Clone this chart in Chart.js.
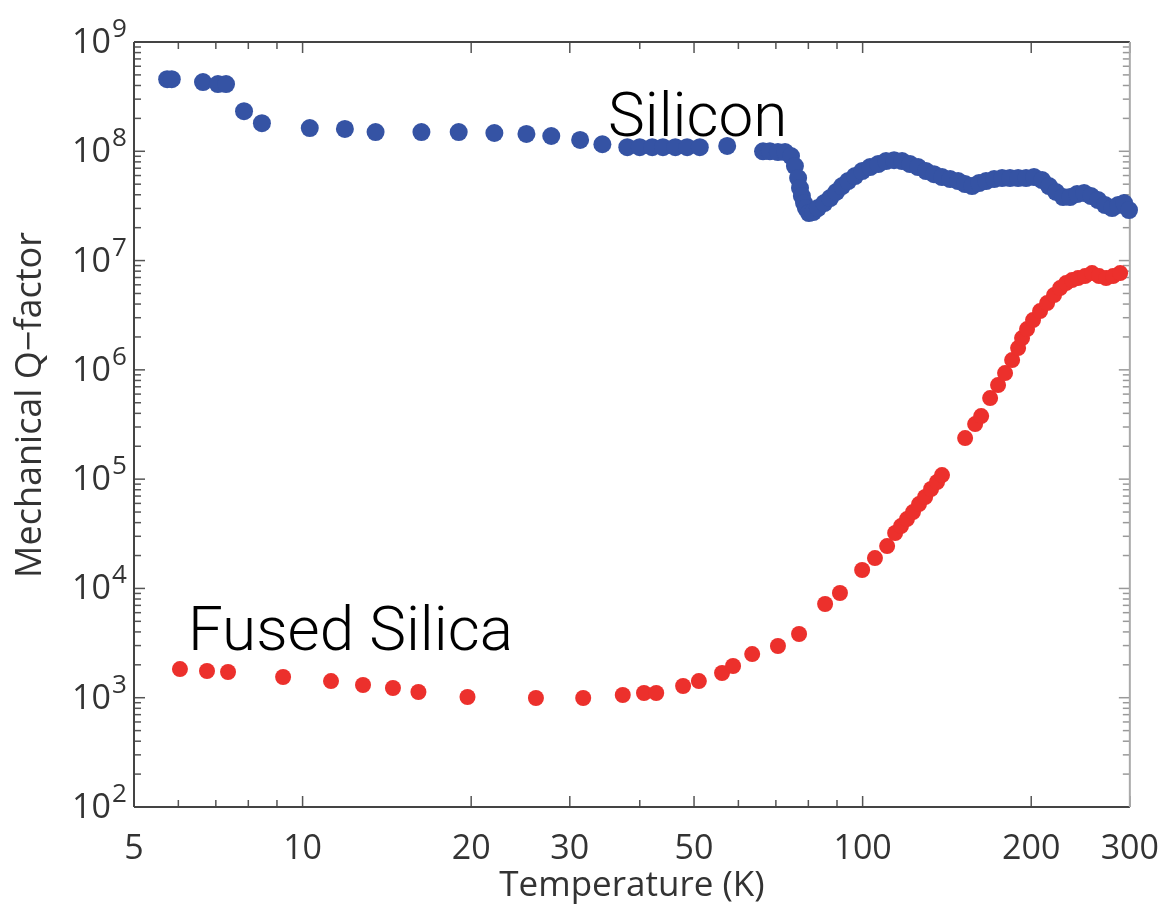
<!DOCTYPE html>
<html>
<head>
<meta charset="utf-8">
<script src="https://cdn.jsdelivr.net/npm/chart.js@4/dist/chart.umd.min.js"></script>
<style>
  html, body { margin: 0; padding: 0; background: #fff; }
</style>
</head>
<body>
<canvas id="qChart" width="1173" height="909"></canvas>
<script>
// Silicon: temperature (K) and mechanical Q
const siliconT = [5.73, 5.84, 6.64, 7.06, 7.30, 7.86, 8.46, 10.3, 11.9, 13.5, 16.3, 19.0, 22.0, 25.1, 27.8,
  31.3, 34.3, 38.0, 40.0, 42.1, 44.0, 46.3, 48.6, 51.2, 57.3,
  66.4, 68.3, 70.6, 72.7, 74.5, 75.7, 76.7, 77.3, 77.9, 78.6, 79.2, 80.2, 81.6, 83.2, 85.4,
  87.5, 89.7, 91.9, 94.2, 96.9, 99.8, 103.1, 106.6, 110.1, 113.8, 117.6, 121.5, 125.6, 129.8, 134.1,
  138.6, 143.3, 148.1, 152.4, 156.8, 161.4, 166.1, 171.7, 177.4, 183.3, 189.5, 195.8, 202.3, 209.1, 215.2,
  221.5, 228, 234.6, 241.5, 248.6, 255.8, 263.3, 271, 278.9, 285.9, 293, 299];
const siliconQ = [4.57e8, 4.57e8, 4.30e8, 4.12e8, 4.12e8, 2.33e8, 1.81e8, 1.63e8, 1.60e8, 1.50e8, 1.50e8, 1.50e8, 1.47e8, 1.44e8, 1.38e8,
  1.27e8, 1.16e8, 1.09e8, 1.09e8, 1.09e8, 1.09e8, 1.09e8, 1.09e8, 1.09e8, 1.12e8,
  1.00e8, 1.00e8, 9.84e7, 9.84e7, 9.04e7, 7.33e7, 5.69e7, 4.61e7, 3.89e7, 3.36e7, 3.02e7, 2.72e7, 2.78e7, 3.02e7, 3.36e7,
  3.73e7, 4.24e7, 4.81e7, 5.34e7, 5.93e7, 6.59e7, 7.17e7, 7.64e7, 8.13e7, 8.30e7, 8.13e7, 7.64e7, 7.17e7, 6.59e7, 6.18e7,
  5.81e7, 5.57e7, 5.34e7, 5.01e7, 4.81e7, 5.12e7, 5.34e7, 5.57e7, 5.69e7, 5.69e7, 5.69e7, 5.69e7, 5.81e7, 5.45e7, 4.81e7,
  4.24e7, 3.81e7, 3.81e7, 4.06e7, 4.15e7, 3.89e7, 3.58e7, 3.22e7, 3.02e7, 3.22e7, 3.36e7, 2.90e7];

// Fused silica: temperature (K) and mechanical Q
const silicaT = [6.04, 6.75, 7.36, 9.23, 11.24, 12.82, 14.5, 16.1, 19.7, 26.1, 31.7, 37.3, 40.7, 42.8, 47.8,
  51.0, 56.1, 58.7, 63.5, 70.6, 77.0, 85.7, 91.1, 99.8, 105.2, 110.6, 114.3, 117.1, 120.0, 123.0,
  126.1, 129.3, 132.5, 135.8, 138.6, 152.4, 158.8, 162.8, 168.9, 174.5, 179.6, 184.9, 189.5, 192.6, 196.6,
  201.5, 207.4, 213.5, 219.7, 225.2, 230.8, 236.6, 242.5, 249.5, 256.8, 264.3, 272.1, 280, 288.3];
const silicaQ = [1830, 1755, 1718, 1547, 1421, 1307, 1227, 1128, 1015, 994, 994, 1059, 1104, 1104, 1280,
  1421, 1683, 1950, 2510, 2972, 3827, 7199, 9077, 14740, 18970, 24430, 32130, 37230, 43150, 50000,
  59180, 68600, 81200, 94100, 109000, 237700, 319300, 377900, 552100, 726100, 934800, 1.229e6, 1.583e6, 1.954e6, 2.362e6,
  2.855e6, 3.451e6, 4.086e6, 4.835e6, 5.603e6, 6.225e6, 6.631e6, 6.917e6, 7.215e6, 7.689e6, 7.215e6, 6.917e6, 7.215e6, 7.689e6];

// axis ticks
const xTicks = [5, 10, 20, 30, 50, 100, 200, 300];
const xTickMarks = [6, 7, 8, 9, 10, 20, 30, 40, 50, 60, 70, 80, 90, 100, 200, 300];
const yExponents = [2, 3, 4, 5, 6, 7, 8, 9];

const BLUE = '#3553a4';
const RED = '#ec302c';
const FONT = 'Open Sans';
const TEXT = '#333';

const toPoints = (xs, ys) => xs.map((t, i) => ({ x: t, y: ys[i] }));

// frame + inward tick marks, y labels with exponents, y title, and the two material labels
const framePlugin = {
  id: 'framePlugin',
  beforeDatasetsDraw(chart) {
    const { ctx, chartArea: a, scales: { x, y } } = chart;
    ctx.save();
    ctx.lineWidth = 1.5;
    ctx.strokeStyle = '#555';
    const seg = (x1, y1, x2, y2) => { ctx.beginPath(); ctx.moveTo(x1, y1); ctx.lineTo(x2, y2); ctx.stroke(); };
    xTickMarks.forEach(v => {
      const px = x.getPixelForValue(v);
      const len = xTicks.includes(v) ? 11 : 7;
      seg(px, a.bottom, px, a.bottom - len);
      seg(px, a.top, px, a.top + len);
    });
    for (let e = 2; e < 9; e++) {
      for (let m = 1; m < 10; m++) {
        const py = y.getPixelForValue(m * Math.pow(10, e));
        const len = m === 1 ? 11 : 7;
        seg(a.left, py, a.left + len, py);
        ctx.strokeStyle = '#999';
        seg(a.right, py, a.right - len, py);
        ctx.strokeStyle = '#555';
      }
    }
    ctx.lineWidth = 2;
    ctx.strokeStyle = '#444';
    seg(a.left, a.top, a.left, a.bottom);
    seg(a.left, a.bottom, a.right, a.bottom);
    seg(a.left, a.top, a.right, a.top);
    ctx.strokeStyle = '#aaa';
    seg(a.right, a.top, a.right, a.bottom);

    // y tick labels: 10 with raised exponent
    ctx.fillStyle = TEXT;
    ctx.textBaseline = 'alphabetic';
    yExponents.forEach(e => {
      const py = y.getPixelForValue(Math.pow(10, e));
      ctx.font = `34px "${FONT}"`;
      ctx.textAlign = 'right';
      ctx.fillText('10', a.left - 23, py + 11);
      ctx.font = `26px "${FONT}"`;
      ctx.textAlign = 'left';
      ctx.fillText(String(e), a.left - 22, py - 5);
    });

    // y axis title
    ctx.save();
    ctx.translate(31, 405);
    ctx.rotate(-Math.PI / 2);
    ctx.font = `36px "${FONT}"`;
    ctx.textAlign = 'center';
    ctx.textBaseline = 'middle';
    ctx.fillText('Mechanical Q\u2212factor', 0, 0);
    ctx.restore();
    ctx.restore();
  },
  afterDatasetsDraw(chart) {
    const { ctx, scales: { x, y } } = chart;
    ctx.save();
    ctx.fillStyle = '#000';
    ctx.font = '300 62px Roboto';
    ctx.textBaseline = 'alphabetic';
    ctx.textAlign = 'left';
    ctx.fillText('Silicon', x.getPixelForValue(35.1), y.getPixelForValue(1.38e8));
    ctx.fillText('Fused Silica', x.getPixelForValue(6.24), y.getPixelForValue(2730));
    ctx.restore();
  }
};

new Chart(document.getElementById('qChart'), {
  type: 'scatter',
  data: {
    datasets: [
      {
        label: 'Silicon',
        data: toPoints(siliconT, siliconQ),
        backgroundColor: BLUE,
        borderWidth: 0,
        pointRadius: 9,
        pointHoverRadius: 9,
        clip: false
      },
      {
        label: 'Fused Silica',
        data: toPoints(silicaT, silicaQ),
        backgroundColor: RED,
        borderWidth: 0,
        pointRadius: 8,
        pointHoverRadius: 8,
        clip: false
      }
    ]
  },
  options: {
    responsive: false,
    animation: false,
    devicePixelRatio: 1,
    layout: { padding: { top: 42, right: 43, left: 0, bottom: 0 } },
    plugins: { legend: { display: false }, tooltip: { enabled: false } },
    scales: {
      x: {
        type: 'logarithmic',
        min: 5,
        max: 300,
        afterBuildTicks: s => { s.ticks = xTicks.map(v => ({ value: v })); },
        afterFit: s => { s.height = 102; },
        ticks: {
          callback: v => String(v),
          font: { family: FONT, size: 34 },
          color: TEXT,
          padding: 14,
          maxRotation: 0,
          autoSkip: false
        },
        grid: { display: false },
        border: { display: false },
        title: {
          display: true,
          text: 'Temperature (K)',
          font: { family: FONT, size: 35 },
          color: TEXT,
          padding: { top: 0, bottom: 2 }
        }
      },
      y: {
        type: 'logarithmic',
        min: 1e2,
        max: 1e9,
        afterBuildTicks: s => { s.ticks = yExponents.map(e => ({ value: Math.pow(10, e) })); },
        afterFit: s => { s.width = 134; },
        ticks: {
          callback: () => '',
          autoSkip: false
        },
        grid: { display: false },
        border: { display: false },
        title: { display: false }
      }
    }
  },
  plugins: [framePlugin]
});
</script>
</body>
</html>
